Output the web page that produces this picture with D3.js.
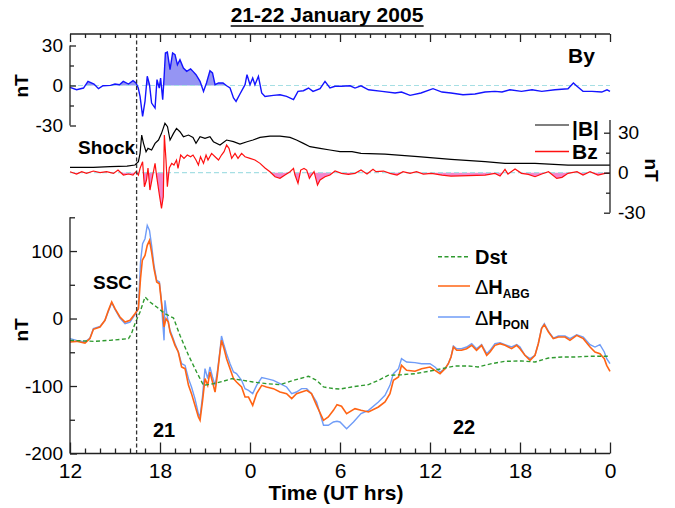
<!DOCTYPE html>
<html><head><meta charset="utf-8">
<script src="https://cdn.jsdelivr.net/npm/d3@7"></script>
<style>
body{margin:0;background:#fff;}
svg text{font-family:"Liberation Sans",Arial,Helvetica,sans-serif;fill:#000;}
</style></head><body>
<svg id="c" width="675" height="508"></svg>
<script>
// ---------------- DATA (time in hours from 00 UT 21 Jan 2005) ----------------
const title = "21-22 January 2005";
const xTickHours = [12,18,24,30,36,42,48];
const xTickLabels = ["12","18","0","6","12","18","0"];
const shockTime = 16.44;
const byFillEnd = 23.5;

const byData = [[12,-1.4],[12.44,-3.2],[12.9,-1.9],[13.2,3.1],[13.6,1.1],[13.9,-2.4],[14.2,-0.2],[14.7,0.1],[15.0,1.1],[15.3,0.6],[15.55,3.1],[15.9,1.1],[16.2,3.6],[16.4,1.9],[16.55,-1.9],[16.67,-8.2],[16.84,-23.2],[17.0,-11.9],[17.15,6.9],[17.3,0.6],[17.44,-13.2],[17.67,-16.9],[17.8,4.4],[17.95,-1.9],[18.04,5.6],[18.18,-10.6],[18.27,5.6],[18.36,24.4],[18.49,25.1],[18.67,11.9],[18.84,24.4],[19.0,23.1],[19.16,15.6],[19.33,19.4],[19.56,13.1],[19.78,10.6],[20.04,12.4],[20.2,10.6],[20.4,8.1],[20.67,3.1],[20.9,-4.4],[21.1,1.9],[21.33,11.1],[21.5,9.4],[21.67,0.6],[21.9,1.9],[22.2,1.9],[22.44,-0.2],[22.67,-1.9],[22.9,-9.4],[23.07,-11.9],[23.33,-6.4],[23.67,0.6],[23.8,8.1],[24.0,0.6],[24.18,5.6],[24.33,0.6],[24.56,6.9],[24.78,-5.6],[25.0,-8.2],[25.56,-7.4],[26.0,-6.9],[26.44,-8.2],[26.9,-10.6],[27.2,-4.4],[27.56,-3.9],[27.9,-1.9],[28.2,-4.4],[28.67,-2.4],[29.0,3.1],[29.33,-1.9],[29.67,-0.6],[30.1,-0.6],[30.67,-0.2],[31.0,-1.9],[31.4,-0.2],[31.9,-3.2],[32.8,-4.4],[33.67,-5.6],[34.1,-4.9],[34.67,-7.4],[35.4,-5.6],[36.2,-2.4],[36.8,-4.9],[37.4,-5.6],[38.2,-6.9],[39.0,-6.4],[39.67,-4.9],[40.33,-4.4],[40.8,-4.9],[41.33,-3.2],[42.1,-4.4],[42.8,-3.2],[43.45,-4.4],[44.33,-3.2],[45.2,-2.4],[45.56,1.9],[45.8,-0.6],[46.2,-4.4],[46.8,-4.4],[47.45,-4.9],[47.8,-3.2],[48,-4.4]];

const bMagData = [[12,4],[13.56,4],[14.67,4.5],[15.8,5],[16.33,5.75],[16.56,8.25],[16.67,14.5],[16.78,28.25],[16.9,22],[17.07,15.75],[17.2,18.25],[17.44,17],[17.67,22],[17.9,24.5],[18.1,29.5],[18.33,37],[18.5,34.5],[18.67,24.5],[18.9,29.5],[19.1,33.25],[19.33,30.75],[19.56,27],[19.9,28.25],[20.2,26.5],[20.4,22],[20.67,27],[21.0,25.75],[21.33,27],[21.56,23.25],[22,20.75],[22.44,24.5],[22.9,23.25],[23.33,21.5],[23.8,23.25],[24.2,24.5],[24.67,26.5],[25.33,27.5],[26,27.5],[26.67,26.5],[27.1,24.5],[27.56,22],[28,19.5],[28.67,18.25],[29.33,17],[30,15.75],[30.8,15.75],[31.4,14.5],[33,14],[35.2,12],[37.4,10],[39.67,8.25],[41,7],[43,7],[45.2,5.75],[48,5.75]];

const bzData = [[12,0.75],[12.44,-1],[12.78,0.75],[13.1,-0.5],[13.56,1.25],[14.0,0],[14.44,0.75],[14.9,-0.5],[15.2,2],[15.56,-1.75],[15.9,-1],[16.2,-1.75],[16.4,0.75],[16.56,-1.75],[16.67,3.25],[16.84,8.25],[16.96,-10.5],[17.1,-5.5],[17.2,3.5],[17.33,-13],[17.5,-3],[17.67,7],[17.78,-3],[17.96,-16.75],[18.1,-26.75],[18.22,-18],[18.29,28.25],[18.4,9.5],[18.49,-10.5],[18.62,3.5],[18.78,7],[18.93,5.75],[19.1,9.5],[19.2,3.25],[19.38,13.25],[19.6,10.75],[19.82,13.25],[20.04,12],[20.2,13.25],[20.4,9.5],[20.56,5.75],[20.7,12],[20.9,7],[21.07,13.25],[21.2,9.5],[21.44,14.5],[21.67,12],[21.9,9.5],[22.1,13.25],[22.27,15.75],[22.44,20.75],[22.6,18.25],[22.78,10.75],[23,14.5],[23.2,10.75],[23.44,14.5],[23.67,12],[24,10.75],[24.33,9.5],[24.67,7],[25,3.5],[25.33,0.75],[25.67,-3],[26,-4.25],[26.33,-1.75],[26.67,0.75],[26.9,3.25],[27,-1.75],[27.2,-8],[27.38,2],[27.6,3.25],[27.78,2],[27.96,-4.25],[28.1,-1.75],[28.27,0.75],[28.5,-9.25],[28.67,-5.5],[29,-3],[29.33,-1.75],[29.67,1.25],[30.1,-0.5],[30.56,-1.25],[31,-0.5],[31.4,2],[31.8,-1],[32.2,2.5],[32.4,0.75],[32.9,1.25],[33.33,-0.5],[33.8,-1.75],[34.2,0.75],[34.67,-0.5],[35.1,0.75],[35.56,-1],[36.1,-0.5],[36.8,-1.75],[37.4,-2.5],[38.56,-2.25],[39.67,-1.75],[40.33,-0.5],[40.67,-2.5],[41,2.5],[41.2,-1],[41.67,2.75],[42.1,-0.5],[42.56,-1.25],[43,-3],[43.45,-1],[43.9,0.75],[44.45,-4.25],[44.8,-3.5],[45.2,-0.5],[45.8,0.75],[46.2,-1.75],[46.67,0.75],[47.2,-1.75],[47.67,-0.5],[48,-0.5]];

const dstData = [[12,-32.3],[13.56,-33.8],[14.67,-32.3],[15.9,-29.8],[16.1,-22.4],[16.33,-7.6],[16.67,9.7],[17,31.9],[17.33,24.5],[17.78,17.1],[18.33,7.2],[18.9,0.8],[19.33,-24.9],[19.9,-54.5],[20.44,-79.2],[20.9,-99],[21.56,-96.5],[22.2,-93],[22.78,-89.1],[23.56,-91.6],[24.2,-94],[25.1,-96.5],[26,-98],[26.9,-91.6],[27.9,-85.6],[28.44,-91.6],[28.9,-101.4],[29.56,-103.9],[30.0,-104.5],[30.78,-101.4],[31.9,-98],[32.56,-91.6],[33.2,-84.2],[34.1,-83.2],[35,-81.7],[35.9,-78.2],[36.8,-74.3],[37.67,-70.3],[38.56,-70.3],[39.2,-71.8],[40.1,-66.9],[41,-63.4],[42.1,-62.9],[43,-64.4],[43.9,-58.5],[44.8,-57],[45.67,-57],[46.56,-56],[48,-56]];

const abgData = [[12,-34.8],[12.44,-33.8],[13,-36.3],[13.33,-29.8],[13.56,-16],[14,-12.6],[14.33,-2.7],[14.56,12.1],[14.78,24.5],[15,14.6],[15.33,2.3],[15.67,-5.2],[16,-2.7],[16.33,7.2],[16.56,14.6],[16.7,59],[16.82,86.2],[17,93.6],[17.15,108.4],[17.3,115.8],[17.44,98.5],[17.6,73.9],[17.78,54.1],[17.96,51.6],[18.07,29.4],[18.18,9.7],[18.27,-12.6],[18.4,-0.2],[18.56,-5.2],[18.67,-20],[18.84,-29.8],[19,-39.7],[19.22,-49.6],[19.44,-71.8],[19.67,-74.3],[19.9,-99],[20.1,-111.3],[20.33,-128.6],[20.56,-145.9],[20.67,-150.8],[20.84,-121.2],[21,-89.1],[21.18,-99],[21.33,-79.2],[21.5,-94],[21.67,-108.9],[21.82,-84.2],[22,-49.6],[22.1,-32.3],[22.27,-44.7],[22.44,-59.5],[22.67,-74.3],[22.9,-89.1],[23.1,-94],[23.44,-101.4],[23.67,-116.3],[23.9,-116.3],[24.18,-128.6],[24.44,-111.3],[24.78,-99],[25.1,-101.4],[25.56,-103.9],[26,-108.9],[26.44,-111.3],[26.78,-118.7],[27.1,-111.3],[27.44,-108.9],[27.78,-106.4],[28.1,-111.3],[28.44,-128.6],[28.9,-150.8],[29.22,-145.9],[29.56,-136],[29.8,-127.6],[30.1,-130],[30.44,-140.9],[31,-133.5],[31.4,-136],[31.9,-138.5],[32.56,-131.1],[33,-123.7],[33.33,-111.3],[33.56,-91.6],[33.9,-86.6],[34.1,-69.4],[34.44,-76.8],[35,-78.2],[35.44,-74.3],[36,-71.8],[36.33,-76.8],[36.67,-81.7],[37,-74.3],[37.22,-66.9],[37.4,-57],[37.56,-42.2],[37.78,-47.1],[38.1,-47.1],[38.44,-44.7],[38.78,-39.7],[39.1,-47.1],[39.44,-39.7],[39.78,-54.5],[40,-49.6],[40.33,-39.7],[40.67,-37.3],[41,-39.7],[41.44,-44.7],[41.78,-39.7],[42,-44.7],[42.33,-54.5],[42.67,-61.9],[43,-54.5],[43.22,-37.3],[43.44,-15],[43.62,-9.1],[43.9,-20],[44.22,-29.8],[44.56,-27.4],[45,-27.4],[45.33,-32.3],[45.78,-24.9],[46.22,-29.8],[46.67,-42.2],[47,-49.6],[47.33,-52.1],[47.62,-59.5],[47.78,-69.4],[48,-78.2]];

const ponData = [[12,-29.8],[12.44,-32.3],[13,-34.8],[13.33,-28.9],[13.56,-15],[14,-11.6],[14.33,-2.7],[14.56,10.7],[14.78,23.5],[15,13.6],[15.33,0.8],[15.67,-7.6],[16,-5.2],[16.33,5.7],[16.56,14.6],[16.7,83.7],[16.84,110.9],[17,118.3],[17.15,138.1],[17.3,130.6],[17.44,108.4],[17.6,78.8],[17.78,56.6],[17.96,54.1],[18.07,31.9],[18.18,-5.2],[18.27,-32.3],[18.33,27],[18.44,9.7],[18.56,-7.6],[18.67,-17.5],[18.84,-27.4],[19,-37.3],[19.22,-49.6],[19.44,-66.9],[19.67,-69.4],[19.9,-89.1],[20.1,-101.4],[20.33,-118.7],[20.56,-141],[20.67,-145.9],[20.84,-113.8],[21,-74.3],[21.18,-89.1],[21.33,-71.8],[21.5,-86.6],[21.67,-99],[21.82,-79.2],[22,-47.1],[22.1,-25.9],[22.27,-39.7],[22.44,-52.1],[22.67,-66.9],[22.9,-79.2],[23.1,-81.7],[23.44,-91.6],[23.67,-103.9],[23.9,-106.4],[24.18,-111.3],[24.44,-99],[24.78,-87.6],[25.1,-89.1],[25.56,-91.6],[26,-96.5],[26.44,-101.4],[26.78,-111.3],[27.1,-108.9],[27.44,-103.9],[27.78,-103.9],[28.1,-111.3],[28.44,-123.7],[28.9,-158.2],[29.22,-158.2],[29.56,-153.3],[29.8,-152.3],[30.0,-153.3],[30.44,-163.2],[30.9,-153.3],[31.4,-140.9],[31.9,-136],[32.56,-123.7],[33,-113.8],[33.33,-99],[33.56,-81.7],[33.9,-74.3],[34.1,-59.5],[34.44,-64.4],[35,-65.4],[35.44,-66.9],[36,-66.9],[36.33,-71.8],[36.67,-79.2],[37,-74.3],[37.22,-66.9],[37.4,-57],[37.56,-40.7],[37.78,-44.7],[38.1,-44.7],[38.44,-42.2],[38.78,-37.3],[39.1,-44.7],[39.44,-38.7],[39.78,-52.1],[40,-47.1],[40.33,-37.3],[40.67,-35.8],[41,-38.7],[41.44,-42.2],[41.78,-38.7],[42,-42.2],[42.33,-54.5],[42.67,-59.5],[43,-54.5],[43.22,-37.3],[43.44,-14],[43.62,-7.6],[43.9,-19],[44.22,-28.9],[44.56,-25.9],[45,-25.9],[45.33,-29.8],[45.78,-23.9],[46.22,-27.4],[46.67,-38.7],[47,-42.2],[47.33,-38.7],[47.62,-49.6],[47.78,-59.5],[48,-66.9]];

// ---------------- CHART ----------------
const svg = d3.select("#c");
const x = d3.scaleLinear().domain([12,48]).range([70,610]);
const yBy = d3.scaleLinear().domain([-30,30]).range([125.5,45.5]);
const yB  = d3.scaleLinear().domain([-30,30]).range([212.7,132.7]);
const yH  = d3.scaleLinear().domain([-200,150]).range([453.5,217.3]);
const AX = "#222";
const FONT = '"Liberation Sans",Arial,Helvetica,sans-serif';

function withCrossings(data){
  const out=[];
  for(let i=0;i<data.length;i++){
    if(i>0){
      const a=data[i-1], b=data[i];
      if((a[1]<0&&b[1]>0)||(a[1]>0&&b[1]<0)){
        const t=a[0]+(b[0]-a[0])*(-a[1])/(b[1]-a[1]);
        out.push([t,0]);
      }
    }
    out.push(data[i]);
  }
  return out;
}

// fills
const byC = withCrossings(byData).filter(d=>d[0]<=byFillEnd);
svg.append("path").datum(byC)
  .attr("d", d3.area().x(d=>x(d[0])).y0(yBy(0)).y1(d=>yBy(Math.max(0,d[1]))))
  .attr("fill","#8a8af2").attr("opacity",0.9);
const bzC = withCrossings(bzData);
svg.append("path").datum(bzC)
  .attr("d", d3.area().x(d=>x(d[0])).y0(yB(0)).y1(d=>yB(Math.min(0,d[1]))))
  .attr("fill","#f27ac8").attr("opacity",0.9);

// zero lines
[[yBy(0)],[yB(0)]].forEach(([yy])=>{
  svg.append("line").attr("x1",x(12)).attr("x2",x(48)).attr("y1",yy).attr("y2",yy)
    .attr("stroke","#a6dfe4").attr("stroke-width",1.2).attr("stroke-dasharray","5,3");
});

// lines
const line = ys => d3.line().x(d=>x(d[0])).y(d=>ys(d[1]));
svg.append("path").datum(byData).attr("d",line(yBy)).attr("fill","none").attr("stroke","#1414ff").attr("stroke-width",1.4);
svg.append("path").datum(bMagData).attr("d",line(yB)).attr("fill","none").attr("stroke","#000").attr("stroke-width",1.2);
svg.append("path").datum(bzData).attr("d",line(yB)).attr("fill","none").attr("stroke","#ff1010").attr("stroke-width",1.2);
svg.append("path").datum(ponData).attr("d",line(yH)).attr("fill","none").attr("stroke","#6f9cf7").attr("stroke-width",1.4);
svg.append("path").datum(abgData).attr("d",line(yH)).attr("fill","none").attr("stroke","#ff6414").attr("stroke-width",1.6);
svg.append("path").datum(dstData).attr("d",line(yH)).attr("fill","none").attr("stroke","#2f9a2f").attr("stroke-width",1.4).attr("stroke-dasharray","4,2.5");

// shock line
svg.append("line").attr("x1",x(shockTime)).attr("x2",x(shockTime)).attr("y1",34).attr("y2",453.5)
  .attr("stroke","#333").attr("stroke-width",1.3).attr("stroke-dasharray","4,2.5");

// axes helpers
function styleAxis(g, fs){
  g.selectAll("path.domain").remove();
  g.selectAll("line").attr("stroke",AX).attr("stroke-width",1.3);
  g.selectAll("text").attr("font-size",fs).attr("font-family",FONT).attr("fill","#000");
  g.attr("font-family",FONT);
}
const minorHours = d3.range(12,49).filter(h=>!xTickHours.includes(h));
const labelOf = h => xTickLabels[xTickHours.indexOf(h)];

// top axis
svg.append("line").attr("x1",70).attr("x2",610).attr("y1",34).attr("y2",34).attr("stroke",AX).attr("stroke-width",1.3);
let g = svg.append("g").attr("transform","translate(0,34)").call(d3.axisTop(x).tickValues(xTickHours).tickSize(-8).tickSizeOuter(0).tickFormat(""));
styleAxis(g,0);
g = svg.append("g").attr("transform","translate(0,34)").call(d3.axisTop(x).tickValues(minorHours).tickSize(-4).tickSizeOuter(0).tickFormat(""));
styleAxis(g,0);

// bottom axis
svg.append("line").attr("x1",70).attr("x2",610).attr("y1",453.5).attr("y2",453.5).attr("stroke",AX).attr("stroke-width",1.3);
g = svg.append("g").attr("transform","translate(0,453.5)").call(d3.axisBottom(x).tickValues(xTickHours).tickSize(-11).tickSizeOuter(0).tickPadding(10).tickFormat(labelOf));
styleAxis(g,21);
g = svg.append("g").attr("transform","translate(0,453.5)").call(d3.axisBottom(x).tickValues(minorHours).tickSize(-5).tickSizeOuter(0).tickFormat(""));
styleAxis(g,0);

// By left axis (spans the data range only)
svg.append("line").attr("x1",70).attr("x2",70).attr("y1",yBy(30)).attr("y2",yBy(-30)).attr("stroke",AX).attr("stroke-width",1.3);
g = svg.append("g").attr("transform","translate(70,0)").call(d3.axisLeft(yBy).tickValues([-30,0,30]).tickSize(-6).tickPadding(7).tickFormat(d=>String(d)));
styleAxis(g,19);
g = svg.append("g").attr("transform","translate(70,0)").call(d3.axisLeft(yBy).tickValues([-15,15]).tickSize(-4).tickFormat(""));
styleAxis(g,0);

// B right axis
svg.append("line").attr("x1",610).attr("x2",610).attr("y1",120).attr("y2",yB(-30)).attr("stroke",AX).attr("stroke-width",1.3);
g = svg.append("g").attr("transform","translate(610,0)").call(d3.axisRight(yB).tickValues([-30,0,30]).tickSize(-6).tickPadding(8).tickFormat(d=>String(d)));
styleAxis(g,19);
g = svg.append("g").attr("transform","translate(610,0)").call(d3.axisRight(yB).tickValues([-15,15]).tickSize(-4).tickFormat(""));
styleAxis(g,0);

// H left axis
svg.append("line").attr("x1",70).attr("x2",70).attr("y1",yH(150)).attr("y2",yH(-200)).attr("stroke",AX).attr("stroke-width",1.3);
g = svg.append("g").attr("transform","translate(70,0)").call(d3.axisLeft(yH).tickValues([-200,-100,0,100]).tickSize(-7).tickPadding(7).tickFormat(d=>String(d)));
styleAxis(g,19);
g = svg.append("g").attr("transform","translate(70,0)").call(d3.axisLeft(yH).tickValues([-150,-50,50,150]).tickSize(-5).tickFormat(""));
styleAxis(g,0);

// texts
function txt(s,xp,yp,fs,opt={}){
  const t=svg.append("text").attr("x",xp).attr("y",yp).attr("font-size",fs)
    .attr("font-weight",opt.w||"bold").attr("text-anchor",opt.a||"start").text(s);
  if(opt.tr) t.attr("transform",opt.tr).attr("x",0).attr("y",0);
  return t;
}
const tt = txt(title,327,22,21,{a:"middle"});
const bb = tt.node().getBBox();
svg.append("line").attr("x1",bb.x).attr("x2",bb.x+bb.width).attr("y1",26).attr("y2",26).attr("stroke","#000").attr("stroke-width",1.6);

txt("nT",0,0,19,{a:"middle",tr:"translate(28,86) rotate(-90)"});
txt("nT",0,0,19,{a:"middle",tr:"translate(28,330) rotate(-90)"});
txt("nT",0,0,19,{a:"middle",tr:"translate(645,170) rotate(90)"});
txt("By",568,63,21);
txt("Shock",78,154,19);
txt("SSC",93,289,19);
txt("21",153,437,20);
txt("22",453,434,20);
txt("Time (UT hrs)",336,500,21,{a:"middle"});

// middle legend
svg.append("line").attr("x1",535).attr("x2",569).attr("y1",125).attr("y2",125).attr("stroke","#000").attr("stroke-width",1.2);
txt("|B|",572,136,21);
svg.append("line").attr("x1",535).attr("x2",569).attr("y1",151.5).attr("y2",151.5).attr("stroke","#ff1010").attr("stroke-width",1.4);
txt("Bz",572,159,21);

// bottom legend
svg.append("line").attr("x1",438).attr("x2",470).attr("y1",256.7).attr("y2",256.7).attr("stroke","#2f9a2f").attr("stroke-width",1.4).attr("stroke-dasharray","4,2.5");
txt("Dst",475,264,20);
function dh(sub,yy,col,ly){
  svg.append("line").attr("x1",438).attr("x2",470).attr("y1",ly).attr("y2",ly).attr("stroke",col).attr("stroke-width",1.5);
  const t=svg.append("text").attr("x",475).attr("y",yy).attr("font-size",20);
  t.append("tspan").attr("font-weight","normal").text("Δ");
  t.append("tspan").attr("font-weight","bold").text("H");
  t.append("tspan").attr("font-weight","bold").attr("font-size",12).attr("dy",4).text(sub);
}
dh("ABG",294,"#ff6414",286);
dh("PON",325,"#6f9cf7",317);
</script></body></html>
